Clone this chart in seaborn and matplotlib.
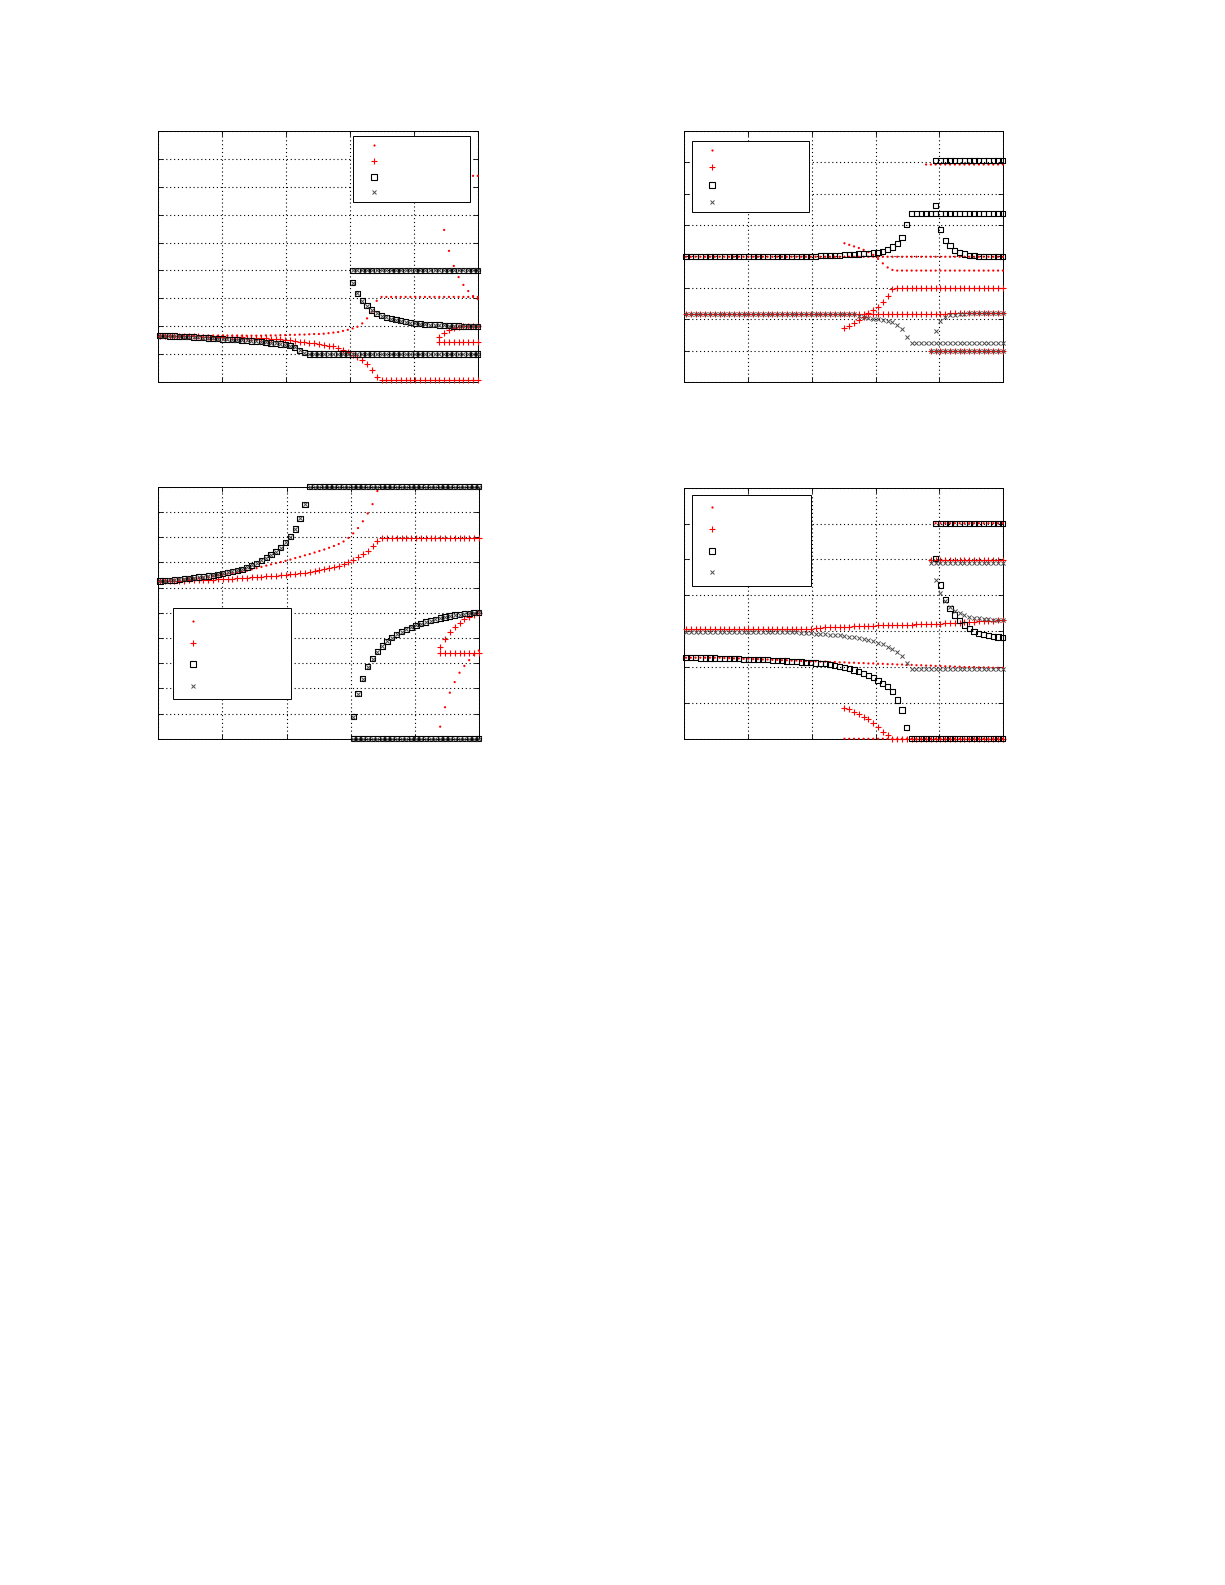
import numpy as np
import pandas as pd
import matplotlib
matplotlib.use('Agg')
import matplotlib.pyplot as plt
from matplotlib.lines import Line2D
import seaborn as sns

sns.set_style('ticks')
plt.rcParams['font.family'] = ['DejaVu Sans']

# parameter steps (same for every panel)
steps = list(range(67))

# each branch: (first step)
# ---------------- top left (y grid 0..9) ----------------
tl_dot_a = (0, [1.66] * 21 +
            [1.66, 1.67, 1.67, 1.67, 1.68, 1.68, 1.69, 1.69, 1.70, 1.70, 1.71, 1.72, 1.72, 1.73] +
            [1.75, 1.77, 1.79, 1.83, 1.87, 1.92, 1.98, 2.10, 2.28, 2.52, 2.91] +
            [3.05] * 21)
tl_dot_b = (59, [5.45, 4.70, 4.16, 3.76, 3.48, 3.26, 3.08, 2.97])
tl_dot_c = (65, [7.39, 7.39])
tl_plus_a = (0, [1.66, 1.66, 1.66, 1.65, 1.65, 1.65, 1.64, 1.64, 1.64, 1.63, 1.63, 1.62, 1.62, 1.62,
                 1.61, 1.61, 1.60, 1.60, 1.59, 1.59, 1.58,
                 1.57, 1.56, 1.55, 1.54, 1.53, 1.51, 1.49, 1.47, 1.45, 1.43, 1.41, 1.39, 1.36, 1.33,
                 1.30, 1.28, 1.22, 1.14, 1.06, 0.97, 0.89, 0.78, 0.63, 0.42, 0.18] +
             [0.06] * 21)
tl_plus_b = (58, [1.42] * 9)
tl_plus_c = (58, [1.60, 1.77, 1.88, 1.94, 1.97, 1.99, 2.00, 2.00, 2.00])
tl_sq_a = (0, [1.66, 1.66, 1.65, 1.65, 1.64, 1.63, 1.62, 1.61, 1.60, 1.59, 1.58, 1.57, 1.55, 1.54,
               1.53, 1.52, 1.51, 1.50, 1.49, 1.47, 1.46, 1.44, 1.42, 1.40, 1.38, 1.36, 1.34, 1.30,
               1.24, 1.14, 1.05] + [1.00] * 36)
tl_sq_b = (40, [4.00] * 27)
tl_sq_c = (40, [3.56, 3.18, 2.92, 2.74, 2.58, 2.46, 2.38, 2.32, 2.27, 2.23, 2.19, 2.16, 2.13, 2.11,
                2.09, 2.07, 2.06, 2.05, 2.04, 2.03, 2.02, 2.01, 2.01, 2.00, 2.00, 2.00, 2.00])
# the crosses sit on the squares here
tl_x_a, tl_x_b, tl_x_c = tl_sq_a, tl_sq_b, tl_sq_c

# ---------------- top right (y grid 0..8) ----------------
tr_dot_a = (0, [3.99] * 67)
tr_dot_b = (33, [4.42, 4.37, 4.32, 4.27, 4.21, 4.14, 4.05, 3.92, 3.78, 3.65, 3.57] + [3.55] * 23)
tr_dot_c = (50, [6.93] * 17)
tr_plus_a = (0, [2.17] * 51 +
             [2.17, 2.18, 2.18, 2.18, 2.19, 2.19, 2.19, 2.20, 2.20, 2.20, 2.20, 2.20, 2.21, 2.21, 2.21, 2.21])
tr_plus_b = (33, [1.71, 1.78, 1.87, 1.97, 2.08, 2.19, 2.29, 2.40, 2.54, 2.75, 2.95] + [2.98] * 23)
tr_plus_c = (51, [0.99] * 16)
tr_sq_a = (0, [3.99] * 28 +
           [4.02, 4.03, 4.03, 4.04, 4.04, 4.05, 4.06, 4.07, 4.08, 4.09, 4.10, 4.11, 4.13, 4.17,
            4.23, 4.30, 4.42, 4.60, 5.02] + [5.38] * 20)
tr_sq_b = (52, [7.07] * 15)
tr_sq_c = (52, [5.62, 4.85, 4.52, 4.34, 4.20, 4.12, 4.08, 4.04, 4.02, 4.01, 4.00, 4.00, 4.00, 3.99, 3.99])
tr_x_a = (0, [2.17] * 36 +
          [2.10, 2.06, 2.04, 2.02, 2.00, 1.97, 1.94, 1.90, 1.82, 1.69, 1.44] + [1.25] * 20)
tr_x_b = (52, [1.62, 1.94, 2.06, 2.12, 2.15, 2.17, 2.18, 2.19, 2.19, 2.20, 2.20, 2.20, 2.21, 2.21, 2.21])
tr_x_c = (51, [0.99] * 16)

# ---------------- bottom left (y grid 0..10) ----------------
bl_dot_a = (0, [6.26, 6.27, 6.28, 6.29, 6.31, 6.32, 6.34, 6.36, 6.38, 6.40, 6.43, 6.46, 6.49, 6.52,
                6.55, 6.57, 6.60,
                6.63, 6.67, 6.72, 6.77, 6.82, 6.87, 6.92, 6.97, 7.01, 7.06, 7.11, 7.17, 7.22, 7.28,
                7.33, 7.39, 7.45, 7.51, 7.58, 7.65, 7.73, 7.83, 7.97, 8.15, 8.36, 8.63, 8.94, 9.31, 9.83])
bl_dot_b = (58, [0.48, 1.25, 1.83, 2.25, 2.62, 2.89, 3.12, 3.32, 3.50])
bl_plus_a = (0, [6.26, 6.26, 6.27, 6.27, 6.28, 6.28, 6.29, 6.29, 6.30, 6.30,
                 6.31, 6.31, 6.32, 6.33, 6.34, 6.35, 6.36, 6.37, 6.38, 6.40,
                 6.41, 6.43, 6.44, 6.46, 6.47, 6.49, 6.50, 6.52, 6.54, 6.56,
                 6.58, 6.61, 6.64, 6.68, 6.72, 6.76, 6.81, 6.86, 6.92, 7.00,
                 7.08, 7.21, 7.35, 7.47, 7.63, 7.84] + [7.95] * 21)
bl_plus_b = (58, [3.40] * 9)
bl_plus_c = (58, [3.63, 3.94, 4.22, 4.45, 4.60, 4.74, 4.84, 4.93, 5.00])
bl_sq_a = (0, [6.26, 6.27, 6.29, 6.30, 6.33, 6.35, 6.37, 6.39, 6.42, 6.43,
               6.46, 6.48, 6.52, 6.56, 6.60, 6.64, 6.68, 6.73, 6.80, 6.88,
               6.97, 7.08, 7.18, 7.30, 7.43, 7.58, 7.79, 8.02, 8.32, 8.75, 9.30] + [10.0] * 36)
bl_sq_b = (40, [0.0] * 27)
bl_sq_c = (40, [0.87, 1.79, 2.38, 2.86, 3.17, 3.45, 3.68, 3.86, 4.01, 4.14, 4.25, 4.34, 4.42, 4.50,
                4.56, 4.63, 4.68, 4.74, 4.79, 4.83, 4.87, 4.91, 4.93, 4.96, 4.98, 5.01, 5.02])
bl_x_a, bl_x_b, bl_x_c = bl_sq_a, bl_sq_b, bl_sq_c

# ---------------- bottom right (y grid 0..7) ----------------
br_dot_a = (0, [2.26] * 8 +
            [2.25, 2.25, 2.24, 2.24, 2.23, 2.23, 2.22, 2.22, 2.21, 2.21,
             2.20, 2.20, 2.19, 2.19, 2.18, 2.18, 2.17, 2.17, 2.16, 2.16,
             2.15, 2.15, 2.14, 2.14, 2.13, 2.13, 2.12, 2.12, 2.11, 2.11,
             2.10, 2.10, 2.09, 2.09, 2.08, 2.08, 2.07, 2.07, 2.06, 2.06,
             2.05, 2.05, 2.04, 2.04, 2.03, 2.03, 2.02, 2.02, 2.01, 2.01,
             2.00, 2.00, 2.00, 1.99, 1.99, 1.99, 1.98, 1.98, 1.98])
br_dot_b = (52, [6.01] * 15)
br_dot_c = (33, [0.0] * 34)
br_plus_a = (0, [3.05] * 10 + [3.06] * 10 + [3.07] * 7 +
             [3.10, 3.10, 3.11, 3.11, 3.12, 3.12, 3.13, 3.13, 3.14, 3.14, 3.15, 3.15, 3.15, 3.16,
              3.16, 3.16, 3.16,
              3.17, 3.17, 3.18, 3.18, 3.19, 3.19, 3.20, 3.20, 3.21, 3.21,
              3.22, 3.23, 3.23, 3.24, 3.25, 3.25, 3.26, 3.27, 3.28, 3.28, 3.29, 3.30, 3.31])
br_plus_b = (51, [4.98] * 16)
br_plus_c = (33, [0.87, 0.82, 0.76, 0.69, 0.61, 0.54, 0.45, 0.32, 0.20, 0.10] + [0.0] * 24)
br_sq_a = (0, [2.26, 2.26, 2.26, 2.25, 2.25, 2.25, 2.25, 2.24, 2.24, 2.24,
               2.23, 2.23, 2.22, 2.22, 2.21, 2.21, 2.20, 2.20, 2.19, 2.18,
               2.18, 2.17, 2.16, 2.15, 2.14, 2.13, 2.12, 2.11, 2.10, 2.09,
               2.07, 2.05, 2.02, 1.99, 1.96, 1.92, 1.88, 1.83, 1.77, 1.70,
               1.63, 1.54, 1.45, 1.31, 1.08, 0.80, 0.31] + [0.0] * 20)
br_sq_b = (52, [6.01] * 15)
br_sq_c = (52, [5.03, 4.29, 3.89, 3.64, 3.45, 3.29, 3.17, 3.07, 2.99, 2.94, 2.91, 2.87, 2.85, 2.84, 2.82])
br_x_a = (0, [2.99] * 21 +
          [2.98, 2.98, 2.97, 2.96, 2.95, 2.94, 2.93, 2.92, 2.91, 2.90, 2.89, 2.88, 2.86, 2.85,
           2.83, 2.81, 2.79, 2.76, 2.72, 2.68, 2.63, 2.57, 2.49, 2.41, 2.30, 2.10] + [1.94] * 20)
br_x_b = (51, [4.91] * 16)
br_x_c = (52, [4.43, 4.07, 3.85, 3.68, 3.57, 3.50, 3.44, 3.40, 3.37, 3.36, 3.34, 3.33, 3.32, 3.31, 3.31])


def to_frame(branches):
    parts = []
    for start, vals in branches:
        parts.append(pd.DataFrame({'step': steps[start:start + len(vals)], 'value': vals}))
    return pd.concat(parts, ignore_index=True)


styles = {
    'dot': dict(marker='o', s=2.6, color='red', edgecolor='none', linewidth=0),
    'plus': dict(marker='+', s=24, color='red', linewidth=0.8),
    'square': dict(marker='s', s=14, color='black', facecolor='none', edgecolor='black', linewidth=0.8),
    'cross': dict(marker='x', s=9, color='0.3', linewidth=0.7),
}

legend_handles = [
    Line2D([], [], ls='none', marker='o', ms=1.6, color='red', mec='none'),
    Line2D([], [], ls='none', marker='+', ms=4.9, color='red', mew=0.8),
    Line2D([], [], ls='none', marker='s', ms=3.8, mfc='none', mec='black', mew=0.8),
    Line2D([], [], ls='none', marker='x', ms=3.0, color='0.3', mew=0.7),
]

panels = [
    dict(rect=[0.1292, 0.7590, 0.2612, 0.1584], ymax=9,
         series={'dot': [tl_dot_a, tl_dot_b, tl_dot_c], 'plus': [tl_plus_a, tl_plus_b, tl_plus_c],
                 'square': [tl_sq_a, tl_sq_b, tl_sq_c], 'cross': [tl_x_a, tl_x_b, tl_x_c]},
         leg=dict(x0=0.609, top=0.98, w=0.365, bp=0.49, ls=0.58, hl=3.33)),
    dict(rect=[0.5586, 0.7590, 0.2604, 0.1584], ymax=8,
         series={'dot': [tr_dot_a, tr_dot_b, tr_dot_c], 'plus': [tr_plus_a, tr_plus_b, tr_plus_c],
                 'square': [tr_sq_a, tr_sq_b, tr_sq_c], 'cross': [tr_x_a, tr_x_b, tr_x_c]},
         leg=dict(x0=0.025, top=0.961, w=0.367, bp=0.52, ls=0.73, hl=3.08)),
    dict(rect=[0.1292, 0.5339, 0.2620, 0.1590], ymax=10,
         series={'dot': [bl_dot_a, bl_dot_b], 'plus': [bl_plus_a, bl_plus_b, bl_plus_c],
                 'square': [bl_sq_a, bl_sq_b, bl_sq_c], 'cross': [bl_x_a, bl_x_b, bl_x_c]},
         leg=dict(x0=0.047, top=0.517, w=0.368, bp=0.84, ls=1.18, hl=2.43)),
    dict(rect=[0.5586, 0.5339, 0.2604, 0.1584], ymax=7,
         series={'dot': [br_dot_a, br_dot_b, br_dot_c], 'plus': [br_plus_a, br_plus_b, br_plus_c],
                 'square': [br_sq_a, br_sq_b, br_sq_c], 'cross': [br_x_a, br_x_b, br_x_c]},
         leg=dict(x0=0.025, top=0.971, w=0.371, bp=0.80, ls=1.20, hl=2.51)),
]

fig = plt.figure(figsize=(12.25, 15.85), dpi=100)
fig.patch.set_facecolor('white')

for p in panels:
    ax = fig.add_axes(p['rect'])
    for name in ['dot', 'plus', 'square', 'cross']:
        df = to_frame(p['series'][name])
        sns.scatterplot(data=df, x='step', y='value', ax=ax, legend=False,
                        clip_on=False, zorder=3, **styles[name])
    ax.set_xlim(-0.35, 66.08)
    ax.set_ylim(0, p['ymax'])
    ax.set_xticks(np.linspace(-0.35, 66.08, 6))
    ax.set_yticks(range(p['ymax'] + 1))
    ax.set_xlabel('')
    ax.set_ylabel('')
    ax.tick_params(direction='in', length=3.5, width=0.6, top=True, right=True,
                   labelbottom=False, labelleft=False, colors='black')
    for sp in ax.spines.values():
        sp.set_visible(True)
        sp.set_color('black')
        sp.set_linewidth(0.7)
    ax.set_axisbelow(True)
    ax.grid(True, color='black', linestyle=(0, (1, 2.5)), linewidth=0.8)

    lg = p['leg']
    leg = ax.legend(legend_handles, [' '] * 4, loc='upper left',
                    bbox_to_anchor=(lg['x0'], lg['top'] - 0.5, lg['w'], 0.5),
                    mode='expand', borderaxespad=0, fontsize=7, numpoints=1,
                    borderpad=lg['bp'], labelspacing=lg['ls'], handlelength=lg['hl'],
                    fancybox=False, framealpha=1, edgecolor='black')
    leg.get_frame().set_linewidth(0.7)
    leg.set_zorder(10)

fig.savefig('out.png', dpi=100, facecolor='white')
